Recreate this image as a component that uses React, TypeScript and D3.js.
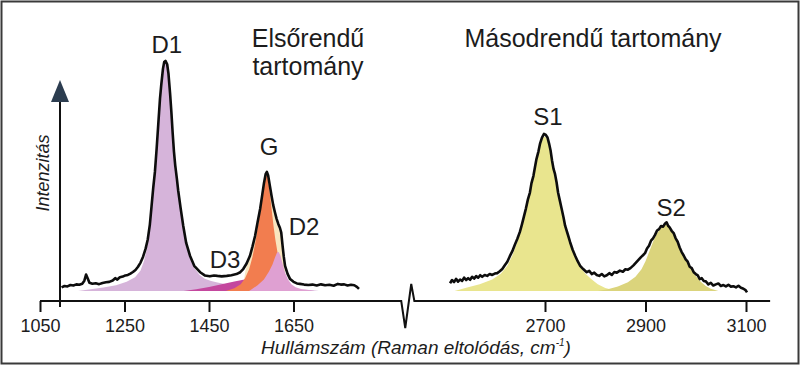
import * as d3 from 'd3'
import React, { useEffect, useRef } from 'react'

// measured spectrum, first-order region [wavenumber, intensity]
const firstOrderCurve: [number, number][] = [
  [1101, 1.6], [1108, 2.2], [1115, 2.0], [1122, 2.6], [1129, 2.4], [1136, 2.9], [1143, 2.7],
  [1150, 3.2], [1155, 4.5], [1159, 7.2], [1163, 5.5], [1167, 3.6], [1174, 3.2], [1182, 3.4],
  [1190, 3.0], [1198, 3.5], [1206, 3.8], [1214, 4.0], [1222, 4.6], [1228, 5.6], [1233, 5.0],
  [1239, 6.0], [1246, 6.3], [1252, 6.8], [1258, 7.0], [1264, 7.6], [1270, 8.3], [1276, 9.2],
  [1282, 10.6], [1288, 12.4], [1294, 15], [1300, 18.5], [1305, 22.5], [1310, 29], [1314, 37],
  [1318, 45], [1322, 52], [1326, 62], [1330, 73], [1334, 84], [1337, 90], [1341, 97],
  [1344, 100], [1347, 100.5], [1351, 99], [1354, 95], [1358, 86], [1361, 78], [1364, 69],
  [1367, 61], [1370, 55], [1374, 49], [1377, 44], [1383, 36], [1389, 28.5], [1396, 21],
  [1405, 15.4], [1415, 11], [1429, 8.2], [1440, 6.8], [1452, 6.4], [1462, 6.8], [1470, 6.6],
  [1480, 6.4], [1492, 6.6], [1503, 6.9], [1515, 7.4], [1524, 8.2], [1531, 9.6], [1539, 12],
  [1547, 15.4], [1553, 19.5], [1559, 24], [1565, 30], [1571, 35.8], [1576, 42], [1580, 47],
  [1584, 51], [1587, 52], [1590, 50.5], [1594, 46], [1598, 41.6], [1602, 37.5], [1606, 34.4],
  [1610, 31.5], [1614, 29.3], [1618, 27.5], [1621, 25.5], [1624, 20], [1627, 15], [1630, 11],
  [1636, 7.5], [1642, 5.2], [1650, 4], [1658, 3.3], [1665, 3.1], [1675, 2.8], [1685, 2.6],
  [1695, 2.8], [1705, 2.4], [1715, 2.9], [1725, 2.5], [1735, 2.7], [1745, 2.3], [1755, 3.1],
  [1762, 2.8], [1770, 2.9], [1778, 2.4], [1786, 2.7], [1794, 2.5], [1800, 1.8], [1805, 0.9]
]

// fitted bands, first-order region
const fitEnvelope: [number, number][] = [
  [1530, 2], [1537, 9.5], [1547, 14.8], [1553, 18.8], [1559, 23.3], [1565, 29.3], [1571, 35],
  [1576, 41.2], [1580, 46.2], [1584, 50.2], [1587, 51.2], [1590, 49.6], [1594, 45.2],
  [1598, 40.6], [1602, 36.4], [1606, 33], [1610, 30], [1614, 27.8], [1618, 25.8], [1621, 23.8],
  [1624, 18.5], [1627, 13], [1630, 8.5], [1634, 0]
]
const bandD1: [number, number][] = [
  [1140, 0], [1170, 0.8], [1200, 1.5], [1230, 2.5], [1255, 4], [1275, 6], [1288, 9],
  [1296, 13], [1303, 18.5], [1309, 26], [1314, 35], [1318, 43], [1322, 51], [1326, 61],
  [1330, 72], [1334, 83], [1337, 89], [1341, 96], [1344, 99], [1347, 99.5], [1351, 98],
  [1354, 94], [1358, 85], [1361, 77], [1364, 68], [1367, 60], [1370, 54], [1374, 48],
  [1377, 43], [1383, 35], [1389, 27.5], [1396, 20], [1405, 14.2], [1415, 10], [1428, 7],
  [1440, 5.4], [1455, 4.4], [1470, 3.7], [1490, 3], [1520, 2.3], [1560, 1.8], [1600, 1.5],
  [1630, 1.2], [1660, 0.8], [1690, 0.4], [1710, 0]
]
const bandD3: [number, number][] = [
  [1390, 0], [1420, 0.8], [1450, 1.8], [1480, 3], [1510, 4.2], [1540, 5.2], [1565, 5.6],
  [1590, 5], [1610, 3.5], [1630, 2], [1650, 0.8], [1670, 0]
]
const bandG: [number, number][] = [
  [1490, 0], [1510, 1.2], [1525, 3], [1535, 5.5], [1545, 9.5], [1553, 15], [1560, 21.5],
  [1566, 28.5], [1572, 35], [1577, 41.5], [1581, 46.5], [1585, 50], [1588, 50.5], [1591, 47],
  [1595, 41], [1599, 34.5], [1603, 28], [1607, 22.5], [1612, 17], [1618, 12], [1625, 7.5],
  [1633, 4.5], [1642, 2.5], [1655, 1], [1670, 0]
]
const bandD2: [number, number][] = [
  [1545, 0], [1565, 2.5], [1580, 5], [1592, 8.5], [1600, 11.5], [1606, 14.5], [1611, 16.8],
  [1615, 17], [1619, 15.5], [1624, 12], [1630, 8], [1637, 5], [1645, 3], [1655, 1.6],
  [1670, 0.8], [1690, 0.3], [1700, 0]
]

// measured spectrum, second-order region
const secondOrderCurve: [number, number][] = [
  [2511, 3.4], [2515, 4.8], [2519, 3.9], [2523, 5.3], [2527, 4.1], [2531, 5.0], [2535, 4.4],
  [2539, 5.8], [2543, 4.8], [2547, 5.6], [2551, 4.9], [2555, 6.2], [2559, 5.4], [2563, 6.5],
  [2567, 5.8], [2571, 6.9], [2575, 6.2], [2580, 7.0], [2585, 6.6], [2590, 7.4], [2595, 7.0],
  [2600, 7.6], [2605, 7.8], [2610, 8.6], [2615, 9.6], [2620, 11.2], [2625, 12.8], [2630, 15.2],
  [2635, 17.4], [2640, 20.2], [2645, 22.8], [2650, 25.8], [2654, 29], [2658, 32.5], [2662, 36],
  [2666, 40], [2670, 43], [2673, 47], [2677, 50.3], [2680, 54], [2683, 57.6], [2687, 61],
  [2690, 64.2], [2694, 67], [2698, 68.6], [2701, 68.3], [2705, 67], [2708, 64.5], [2711, 61.5],
  [2714, 57], [2717, 53.3], [2720, 51], [2723, 47.5], [2726, 43], [2729, 40], [2733, 36],
  [2737, 32], [2740, 28.5], [2745, 25], [2750, 21.3], [2755, 18], [2760, 15.4], [2765, 13],
  [2770, 11], [2776, 9.6], [2783, 8.2], [2788, 8.8], [2793, 7.4], [2798, 8.0], [2803, 7.0],
  [2808, 6.6], [2813, 7.4], [2818, 6.4], [2823, 6.9], [2828, 7.8], [2833, 7.0], [2838, 8.3],
  [2843, 8.0], [2849, 8.9], [2855, 8.4], [2860, 9.5], [2865, 9.3], [2870, 10], [2876, 11.2],
  [2881, 12.4], [2886, 13.6], [2891, 14.8], [2895, 15.6], [2899, 16.5], [2903, 18.6],
  [2907, 19.8], [2911, 22], [2915, 23], [2919, 24.5], [2923, 26.4], [2927, 27], [2931, 28.4],
  [2935, 28.1], [2939, 29.5], [2942, 30], [2945, 28.5], [2948, 27.8], [2952, 26.3],
  [2956, 25.3], [2960, 23], [2964, 21.5], [2968, 19], [2972, 17], [2976, 15.5], [2980, 13.8],
  [2984, 12.8], [2988, 10.6], [2992, 10], [2996, 8.2], [3000, 7.4], [3004, 6.8], [3008, 5.2],
  [3012, 5.6], [3016, 4.4], [3020, 4.2], [3025, 2.9], [3030, 3.6], [3035, 2.4], [3040, 2.9],
  [3045, 3.3], [3050, 2.2], [3055, 2.6], [3060, 2.0], [3065, 2.7], [3070, 1.9], [3075, 2.1],
  [3080, 1.6], [3085, 2.3], [3090, 1.4], [3095, 1.0], [3099, 0.4], [3102, -0.6]
]
const bandS1: [number, number][] = [
  [2520, 0], [2545, 1.5], [2570, 3], [2595, 5], [2612, 7.5], [2625, 11], [2635, 15.5],
  [2645, 21.5], [2654, 28], [2662, 35], [2670, 42.5], [2677, 49.5], [2683, 56.5], [2690, 63],
  [2695, 66.5], [2698, 67.5], [2702, 67], [2706, 65], [2711, 60], [2716, 53], [2721, 48],
  [2726, 42], [2733, 35], [2740, 28], [2750, 20.5], [2760, 14.8], [2770, 10.5], [2780, 7.6],
  [2792, 5.2], [2805, 3], [2820, 1.3], [2835, 0.4], [2845, 0]
]
const bandS2: [number, number][] = [
  [2805, 0], [2825, 0.8], [2845, 2], [2865, 3.8], [2880, 6.2], [2892, 9.5], [2900, 13],
  [2908, 17.5], [2916, 22], [2924, 25.5], [2932, 27.8], [2940, 29], [2946, 28.3], [2952, 26],
  [2960, 22.5], [2968, 18.5], [2976, 15], [2984, 12], [2992, 9], [3000, 6.5], [3010, 4],
  [3020, 2.2], [3030, 1], [3045, 0]
]

const leftTicks = [1050, 1250, 1450, 1650]
const rightTicks = [2700, 2900, 3100]

// band labels anchored in data space [name, wavenumber, intensity]
const leftLabels: [string, number, number][] = [
  ['D1', 1350, 104], ['G', 1592, 59.4], ['D2', 1675, 24.5], ['D3', 1488, 10]
]
const rightLabels: [string, number, number][] = [
  ['S1', 2706, 72.5], ['S2', 2951, 32.8]
]

const FONT = "'Liberation Sans', Arial, sans-serif"
const INK = '#1c1c1c'

const App = () => {
  const svgRef = useRef<SVGSVGElement>(null)
  const width = 801
  const height = 368

  useEffect(() => {
    if (!svgRef.current) return
    const root = d3.select(svgRef.current)
    root.selectAll('*').remove()

    const y = d3.scaleLinear().domain([0, 100]).range([291, 62])
    const xL = d3.scaleLinear().domain([1050, 1650]).range([40, 293.5])
    const xR = d3.scaleLinear().domain([2700, 3100]).range([545, 746])
    const axisY = 301

    root.append('rect').attr('width', width).attr('height', height).attr('fill', '#fff')

    const area = (x: d3.ScaleLinear<number, number>) =>
      d3.area<[number, number]>().x((d) => x(d[0])).y0(y(0)).y1((d) => y(d[1]))
    const line = (x: d3.ScaleLinear<number, number>) =>
      d3.line<[number, number]>().x((d) => x(d[0])).y((d) => y(d[1]))

    // first-order bands
    const leftBands: [[number, number][], string][] = [
      [fitEnvelope, '#f9e6bf'],
      [bandD1, '#d6b4da'],
      [bandD3, '#c4479e'],
      [bandG, '#f27d4f'],
      [bandD2, '#dfa0d2']
    ]
    leftBands.forEach(([data, color]) => {
      root.append('path').datum(data).attr('fill', color).attr('d', area(xL))
    })

    // second-order bands
    root.append('path').datum(bandS1).attr('fill', '#e9e58e').attr('d', area(xR))
    root.append('path').datum(bandS2).attr('fill', '#dbd47c').attr('d', area(xR))

    // measured curves
    root.append('path').datum(firstOrderCurve).attr('fill', 'none')
      .attr('stroke', '#0d0d0d').attr('stroke-width', 2.6).attr('stroke-linejoin', 'round')
      .attr('d', line(xL))
    root.append('path').datum(secondOrderCurve).attr('fill', 'none')
      .attr('stroke', '#0d0d0d').attr('stroke-width', 2.6).attr('stroke-linejoin', 'round')
      .attr('d', line(xR))

    // x axes with a break between the two regions
    const breakX = xL(1905)
    const rightStart = xR(2440)
    const rightEnd = xR(3148)
    root.append('path')
      .attr('d', `M${xL(1050)},${axisY}H${breakX}L${breakX + 4},${axisY + 27}L${breakX + 10},${axisY - 17}L${rightStart},${axisY}H${rightEnd}`)
      .attr('fill', 'none').attr('stroke', '#111').attr('stroke-width', 2).attr('stroke-linejoin', 'miter')

    const styleAxis = (g: d3.Selection<SVGGElement, unknown, null, undefined>) => {
      g.select('.domain').remove()
      g.selectAll('.tick line').attr('stroke', '#111').attr('stroke-width', 2)
      g.selectAll('.tick text').attr('font-family', FONT).attr('font-size', 18).attr('fill', INK)
    }
    root.append('g').attr('transform', `translate(0,${axisY})`)
      .call(d3.axisBottom(xL).tickValues(leftTicks).tickSize(11).tickPadding(7).tickFormat(d3.format('d')))
      .call(styleAxis)
    root.append('g').attr('transform', `translate(0,${axisY})`)
      .call(d3.axisBottom(xR).tickValues(rightTicks).tickSize(11).tickPadding(7).tickFormat(d3.format('d')))
      .call(styleAxis)

    // y axis arrow
    const yAxisX = 60
    root.append('line').attr('x1', yAxisX).attr('x2', yAxisX).attr('y1', 98).attr('y2', 307)
      .attr('stroke', '#111').attr('stroke-width', 2)
    root.append('path').attr('d', `M${yAxisX},80L${yAxisX - 9},102L${yAxisX + 9},102Z`)
      .attr('fill', '#2c3d50')

    root.append('text').attr('transform', 'translate(49,173) rotate(-90)')
      .attr('text-anchor', 'middle').attr('font-family', FONT).attr('font-style', 'italic')
      .attr('font-size', 18).attr('fill', INK).text('Intenzitás')

    const xTitle = root.append('text').attr('x', 416).attr('y', 354)
      .attr('text-anchor', 'middle').attr('font-family', FONT).attr('font-style', 'italic')
      .attr('font-size', 19).attr('fill', INK)
    xTitle.append('tspan').text('Hullámszám (Raman eltolódás, cm')
    xTitle.append('tspan').attr('dy', -8).attr('font-size', 10).text('-1')
    xTitle.append('tspan').attr('dy', 8).text(')')

    // region titles
    const titles: [string, number, number][] = [
      ['Elsőrendű', 308, 47], ['tartomány', 308, 75], ['Másodrendű tartomány', 593, 47]
    ]
    titles.forEach(([t, tx, ty]) => {
      root.append('text').attr('x', tx).attr('y', ty).attr('text-anchor', 'middle')
        .attr('font-family', FONT).attr('font-size', 25).attr('fill', INK).text(t)
    })

    // band labels
    const labelText = (x: d3.ScaleLinear<number, number>) => ([name, wn, val]: [string, number, number]) => {
      root.append('text').attr('x', x(wn)).attr('y', y(val)).attr('text-anchor', 'middle')
        .attr('font-family', FONT).attr('font-size', 24).attr('fill', INK).text(name)
    }
    leftLabels.forEach(labelText(xL))
    rightLabels.forEach(labelText(xR))

    // picture frame
    root.append('rect').attr('x', 1.5).attr('y', 1.5).attr('width', 797).attr('height', 362)
      .attr('fill', 'none').attr('stroke', '#3a3a3a').attr('stroke-width', 2)
  }, [])

  return (
    <svg ref={svgRef} width={width} height={height}
      style={{ position: 'absolute', left: 0, top: 0, display: 'block' }} />
  )
}

export default App
